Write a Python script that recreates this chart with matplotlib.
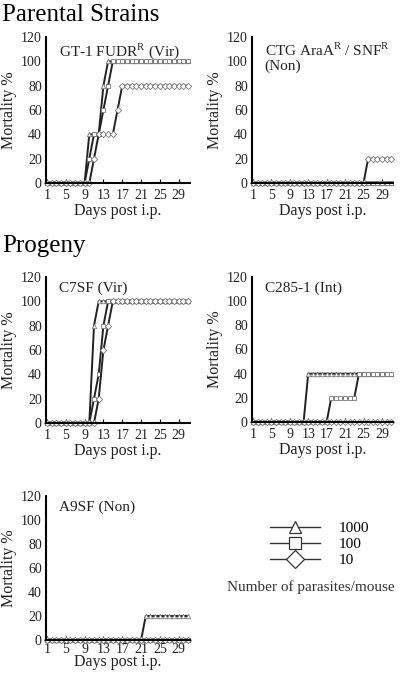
import numpy as np
import matplotlib
matplotlib.use('Agg')
import matplotlib.pyplot as plt
from matplotlib.lines import Line2D

plt.rcParams['font.family'] = ['Liberation Serif', 'DejaVu Serif']
plt.rcParams['mathtext.fontset'] = 'custom'
plt.rcParams['mathtext.rm'] = 'Liberation Serif'

days = np.arange(1, 32)

def steps(pairs, n=31):
    # pairs: list of (first_day, value) changes
    out = np.zeros(n)
    for d, v in pairs:
        out[d - 1:] = v
    return out

# GT-1 FUDR-R (Vir)
gt1_1000 = steps([(10, 40), (13, 80), (14, 100)])
gt1_100 = steps([(10, 20), (11, 40), (13, 60), (14, 80), (15, 100)])
gt1_10 = steps([(11, 20), (12, 40), (16, 60), (17, 80)])
# CTG AraA-R / SNF-R (Non)
ctg_1000 = steps([])
ctg_100 = steps([])
ctg_10 = steps([(26, 20)])
# C7SF (Vir)
c7_1000 = steps([(11, 80), (12, 100)])
c7_100 = steps([(11, 20), (12, 40), (13, 80), (14, 100)])
c7_10 = steps([(12, 20), (13, 60), (14, 80), (15, 100)])
# C285-1 (Int)
c285_1000 = steps([(13, 40)])
c285_100 = steps([(18, 20), (24, 40)])
c285_10 = steps([])
# A9SF (Non)
a9_1000 = steps([(22, 20)])
a9_100 = steps([])
a9_10 = steps([])

doses = ['1000', '100', '10']
markers = ['^', 's', 'D']
xticks = [1, 5, 9, 13, 17, 21, 25, 29]
yticks = [0, 20, 40, 60, 80, 100, 120]

W, H = 400, 675
fig = plt.figure(figsize=(W / 100, H / 100), dpi=100)

def box(x0, x1, ytop, ybot):
    return [x0 / W, 1 - ybot / H, (x1 - x0) / W, (ybot - ytop) / H]

# (rect, title, series, tick pad, xlabel pad)
panels = [
    (box(46, 190, 37, 183), 'GT-1 FUDR$^\\mathregular{R}$ (Vir)', [gt1_1000, gt1_100, gt1_10], 4, 1),
    (box(252, 393, 37, 183), 'CTG AraA$^\\mathregular{R}$ / SNF$^\\mathregular{R}$\n(Non)', [ctg_1000, ctg_100, ctg_10], 4, 1),
    (box(46, 190, 277, 423), 'C7SF (Vir)', [c7_1000, c7_100, c7_10], 4, 1),
    (box(252, 393, 277, 422), 'C285-1 (Int)', [c285_1000, c285_100, c285_10], 4, 1),
    (box(46, 190, 496, 640), 'A9SF (Non)', [a9_1000, a9_100, a9_10], 2, -1),
]

for rect, title, series, tpad, lpad in panels:
    ax = fig.add_axes(rect)
    for vals, m in zip(series, markers):
        ax.plot(days, vals, color='#222222', lw=1.4, marker=m, ms=3.2,
                mfc='white', mec='#777777', mew=0.6, clip_on=False)
    ax.set_xlim(0.8, 31.4)
    ax.set_ylim(0, 120)
    ax.set_xticks(xticks)
    ax.set_yticks(yticks)
    ax.tick_params(axis='y', length=0, labelsize=10, pad=3, labelcolor='#222222')
    ax.tick_params(axis='x', direction='in', length=3, width=0.8, labelsize=10,
                   pad=tpad, labelcolor='#222222')
    for s in ['top', 'right']:
        ax.spines[s].set_visible(False)
    for s in ['left', 'bottom']:
        ax.spines[s].set_linewidth(1.5)
    ax.set_ylabel('Mortality %', fontsize=11.5, labelpad=3, color='#222222')
    ax.set_xlabel('Days post i.p.', fontsize=11.5, labelpad=lpad, color='#222222')
    ax.text(0.09, 0.97, title, transform=ax.transAxes, fontsize=11,
            va='top', ha='left', linespacing=1.1, color='#222222')

fig.text(2 / W, 1 - 15 / H, 'Parental Strains', fontsize=18, va='center')
fig.text(2 / W, 1 - 246 / H, 'Progeny', fontsize=18, va='center')

handles = [Line2D([], [], color='#333333', lw=1.0, marker=m, ms=9,
                  mfc='white', mec='#333333', mew=0.9) for m in markers]
fig.legend(handles, doses, loc='upper left', bbox_to_anchor=(262 / W, 1 - 514 / H),
           frameon=False, fontsize=11, handlelength=3.3, handletextpad=1.2,
           labelspacing=0.15, borderpad=0, numpoints=1)
fig.text(311 / W, 1 - 587 / H, 'Number of parasites/mouse', fontsize=11,
         ha='center', va='center', color='#333333')

fig.savefig('out.png', dpi=100)
